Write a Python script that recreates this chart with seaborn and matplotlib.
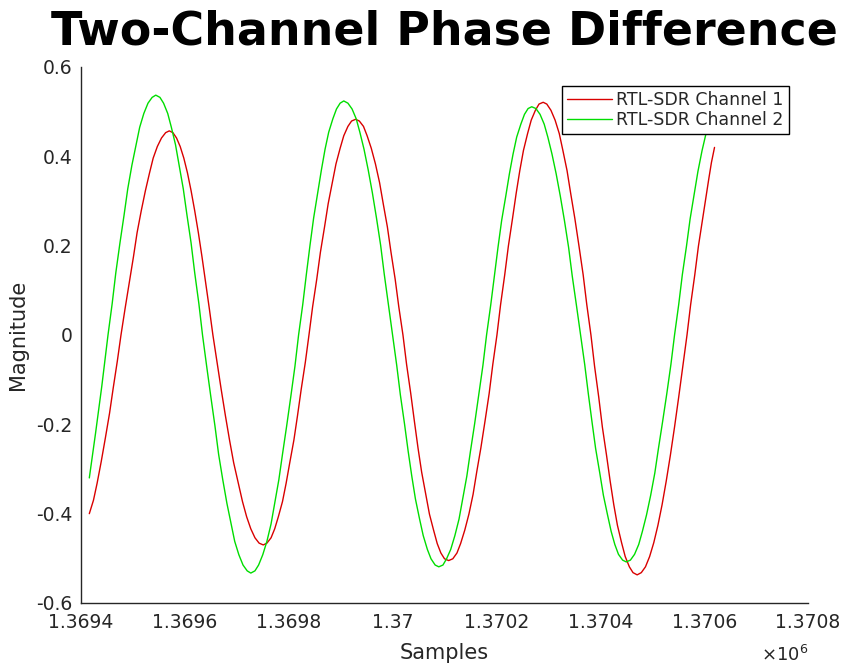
import matplotlib
matplotlib.use("Agg")
import matplotlib.pyplot as plt
import seaborn as sns
import pandas as pd

# Sample indices and magnitudes for RTL-SDR channel 1
ch1_samples = [
    1369416, 1369424, 1369431, 1369439, 1369447, 1369455, 1369462, 1369470, 1369477,
    1369485, 1369493, 1369501, 1369508, 1369516, 1369524, 1369532, 1369539, 1369547, 1369555, 1369563, 1369570,
    1369577, 1369584, 1369591, 1369598, 1369605, 1369612, 1369619, 1369626, 1369633, 1369640, 1369647, 1369654,
    1369662, 1369670, 1369678, 1369686, 1369694, 1369703, 1369711, 1369719, 1369727, 1369735, 1369743, 1369751,
    1369758, 1369766, 1369773, 1369780, 1369788, 1369795, 1369802, 1369810, 1369817, 1369824, 1369832, 1369839,
    1369846, 1369854, 1369861, 1369869, 1369876, 1369884, 1369891, 1369899, 1369906, 1369914, 1369921, 1369929,
    1369936, 1369944, 1369951, 1369959, 1369967, 1369975, 1369982, 1369990, 1369997, 1370005, 1370012, 1370020,
    1370027, 1370035, 1370042, 1370049, 1370056, 1370064, 1370071, 1370079, 1370086, 1370093, 1370100, 1370108,
    1370116, 1370124, 1370131, 1370139, 1370147, 1370155, 1370162, 1370170, 1370178, 1370186, 1370193, 1370201,
    1370208, 1370216, 1370223, 1370231, 1370238, 1370245, 1370252, 1370260, 1370267, 1370275, 1370282, 1370290,
    1370297, 1370305, 1370313, 1370321, 1370328, 1370336, 1370343, 1370351, 1370359, 1370367, 1370374, 1370382,
    1370389, 1370397, 1370404, 1370412, 1370419, 1370426, 1370433, 1370441, 1370448, 1370456, 1370463, 1370471,
    1370479, 1370487, 1370495, 1370503, 1370511, 1370519, 1370527, 1370535, 1370543, 1370551, 1370559, 1370567,
    1370574, 1370582, 1370589, 1370597, 1370603, 1370609, 1370614, 1370620,
]
ch1_values = [
    -0.400, -0.370, -0.332, -0.283, -0.230, -0.175, -0.119, -0.058, 0.0,
    0.060, 0.118, 0.175, 0.229, 0.278, 0.323, 0.363, 0.396, 0.422, 0.441, 0.453, 0.457,
    0.453, 0.441, 0.422, 0.396, 0.363, 0.323, 0.278, 0.229, 0.175, 0.118, 0.060, 0.0,
    -0.061, -0.122, -0.180, -0.235, -0.286, -0.332, -0.373, -0.407, -0.434, -0.454, -0.466, -0.470,
    -0.466, -0.454, -0.434, -0.407, -0.373, -0.332, -0.286, -0.235, -0.180, -0.122, -0.061, 0.0,
    0.063, 0.125, 0.185, 0.242, 0.294, 0.341, 0.383, 0.418, 0.446, 0.467, 0.479, 0.483,
    0.479, 0.467, 0.446, 0.418, 0.383, 0.341, 0.294, 0.242, 0.185, 0.125, 0.063, 0.0,
    -0.066, -0.131, -0.193, -0.253, -0.307, -0.357, -0.401, -0.437, -0.467, -0.488, -0.501, -0.505,
    -0.501, -0.488, -0.467, -0.437, -0.401, -0.357, -0.307, -0.253, -0.193, -0.131, -0.066, 0.0,
    0.068, 0.135, 0.199, 0.261, 0.317, 0.368, 0.413, 0.451, 0.481, 0.503, 0.517, 0.521,
    0.517, 0.503, 0.481, 0.451, 0.413, 0.368, 0.317, 0.261, 0.199, 0.135, 0.068, 0.0,
    -0.070, -0.139, -0.206, -0.269, -0.327, -0.380, -0.426, -0.465, -0.496, -0.519, -0.532, -0.537,
    -0.532, -0.519, -0.496, -0.465, -0.426, -0.380, -0.327, -0.269, -0.206, -0.139, -0.070, 0.0,
    0.068, 0.135, 0.199, 0.260, 0.306, 0.350, 0.386, 0.420,
]

# Sample indices and magnitudes for RTL-SDR channel 2
ch2_samples = [
    1369416, 1369422, 1369428, 1369434, 1369440, 1369446, 1369452,
    1369460, 1369467, 1369475, 1369483, 1369490, 1369498, 1369506, 1369513, 1369521, 1369529, 1369537, 1369544,
    1369552, 1369559, 1369567, 1369574, 1369582, 1369589, 1369597, 1369604, 1369612, 1369619, 1369627, 1369634,
    1369642, 1369650, 1369658, 1369665, 1369673, 1369681, 1369689, 1369696, 1369704, 1369712, 1369720, 1369727,
    1369735, 1369742, 1369750, 1369758, 1369766, 1369773, 1369781, 1369788, 1369796, 1369804, 1369812, 1369819,
    1369827, 1369834, 1369841, 1369848, 1369856, 1369863, 1369870, 1369877, 1369885, 1369892, 1369899, 1369906,
    1369914, 1369922, 1369930, 1369937, 1369945, 1369953, 1369961, 1369969, 1369977, 1369984, 1369992, 1370000,
    1370008, 1370015, 1370023, 1370030, 1370037, 1370044, 1370052, 1370059, 1370067, 1370074, 1370082, 1370089,
    1370097, 1370104, 1370112, 1370120, 1370128, 1370135, 1370143, 1370150, 1370158, 1370166, 1370174, 1370181,
    1370189, 1370196, 1370203, 1370210, 1370218, 1370225, 1370232, 1370239, 1370247, 1370254, 1370261, 1370268,
    1370276, 1370284, 1370292, 1370299, 1370307, 1370315, 1370323, 1370331, 1370339, 1370346, 1370354, 1370362,
    1370370, 1370377, 1370384, 1370391, 1370399, 1370406, 1370414, 1370421, 1370428, 1370435, 1370443, 1370450,
    1370458, 1370466, 1370474, 1370481, 1370489, 1370497, 1370505, 1370512, 1370520, 1370528, 1370536, 1370543,
    1370551, 1370558, 1370566, 1370573, 1370581, 1370588, 1370596, 1370603, 1370612, 1370620,
]
ch2_values = [
    -0.320, -0.270, -0.220, -0.168, -0.115, -0.058, 0.0,
    0.070, 0.139, 0.206, 0.269, 0.327, 0.380, 0.426, 0.465, 0.496, 0.519, 0.532, 0.537,
    0.532, 0.519, 0.496, 0.465, 0.426, 0.380, 0.327, 0.269, 0.206, 0.139, 0.070, 0.0,
    -0.070, -0.138, -0.204, -0.267, -0.324, -0.377, -0.423, -0.462, -0.492, -0.515, -0.528, -0.533,
    -0.528, -0.515, -0.492, -0.462, -0.423, -0.377, -0.324, -0.267, -0.204, -0.138, -0.070, 0.0,
    0.068, 0.136, 0.201, 0.262, 0.319, 0.370, 0.416, 0.454, 0.484, 0.506, 0.519, 0.524,
    0.519, 0.506, 0.484, 0.454, 0.416, 0.370, 0.319, 0.262, 0.201, 0.136, 0.068, 0.0,
    -0.068, -0.134, -0.199, -0.260, -0.316, -0.367, -0.412, -0.449, -0.480, -0.501, -0.515, -0.519,
    -0.515, -0.501, -0.480, -0.449, -0.412, -0.367, -0.316, -0.260, -0.199, -0.134, -0.068, 0.0,
    0.067, 0.132, 0.196, 0.256, 0.311, 0.361, 0.405, 0.443, 0.472, 0.494, 0.507, 0.511,
    0.507, 0.494, 0.472, 0.443, 0.405, 0.361, 0.311, 0.256, 0.196, 0.132, 0.067, 0.0,
    -0.066, -0.132, -0.194, -0.254, -0.309, -0.359, -0.403, -0.440, -0.469, -0.491, -0.504, -0.508,
    -0.504, -0.491, -0.469, -0.440, -0.403, -0.359, -0.309, -0.254, -0.194, -0.132, -0.066, 0.0,
    0.068, 0.135, 0.199, 0.260, 0.317, 0.366, 0.413, 0.448, 0.480, 0.505,
]

series_names = ["RTL-SDR Channel 1", "RTL-SDR Channel 2"]

x_ticks = [1369400, 1369600, 1369800, 1370000, 1370200, 1370400, 1370600, 1370800]
x_tick_labels = ["1.3694", "1.3696", "1.3698", "1.37", "1.3702", "1.3704", "1.3706", "1.3708"]
y_ticks = [-0.6, -0.4, -0.2, 0.0, 0.2, 0.4, 0.6]
y_tick_labels = ["-0.6", "-0.4", "-0.2", "0", "0.2", "0.4", "0.6"]

sns.set_theme(style="white")
plt.rcParams["font.family"] = ["DejaVu Sans"]

ink = "#262626"
W, H = 844, 667
fig = plt.figure(figsize=(W / 100, H / 100), dpi=100)
ax = fig.add_axes([81 / W, 1 - 603 / H, (808 - 81) / W, (603 - 67) / H])

df1 = pd.DataFrame({"Samples": ch1_samples, "Magnitude": ch1_values})
df2 = pd.DataFrame({"Samples": ch2_samples, "Magnitude": ch2_values})
sns.lineplot(data=df1, x="Samples", y="Magnitude", ax=ax, color="#d90000",
             linewidth=1.0, sort=False, estimator=None, label=series_names[0])
sns.lineplot(data=df2, x="Samples", y="Magnitude", ax=ax, color="#00dd00",
             linewidth=1.0, sort=False, estimator=None, label=series_names[1])

ax.set_xlim(x_ticks[0], x_ticks[-1])
ax.set_ylim(y_ticks[0], y_ticks[-1])
ax.set_xticks(x_ticks)
ax.set_xticklabels(x_tick_labels)
ax.set_yticks(y_ticks)
ax.set_yticklabels(y_tick_labels)

for side in ("top", "right"):
    ax.spines[side].set_visible(False)
for side in ("left", "bottom"):
    ax.spines[side].set_color(ink)
    ax.spines[side].set_linewidth(1.0)

ax.tick_params(axis="both", direction="in", length=6.5, width=1.0, color=ink,
               labelcolor=ink, labelsize=13.5)
ax.tick_params(axis="x", pad=7)
ax.tick_params(axis="y", pad=6)

ax.set_xlabel("Samples", fontsize=15, color=ink, labelpad=8)
ax.set_ylabel("Magnitude", fontsize=15, color=ink, labelpad=6)
ax.set_title("Two-Channel Phase Difference", fontsize=33, fontweight="bold",
             color="black", pad=16)

ax.text(1.0, -0.108, r"$\times10^{6}$", transform=ax.transAxes, ha="right",
        va="baseline", fontsize=13, color=ink)

leg = ax.legend(loc="upper right", bbox_to_anchor=(789 / W, 1 - 86 / H),
                bbox_transform=fig.transFigure, borderaxespad=0, fontsize=12.5,
                frameon=True, fancybox=False, framealpha=1.0, edgecolor="black",
                borderpad=0.3, labelspacing=0.1, handlelength=2.6,
                handletextpad=0.25)
leg.get_frame().set_linewidth(1.0)

fig.savefig("out.png", dpi=100, facecolor="white")
